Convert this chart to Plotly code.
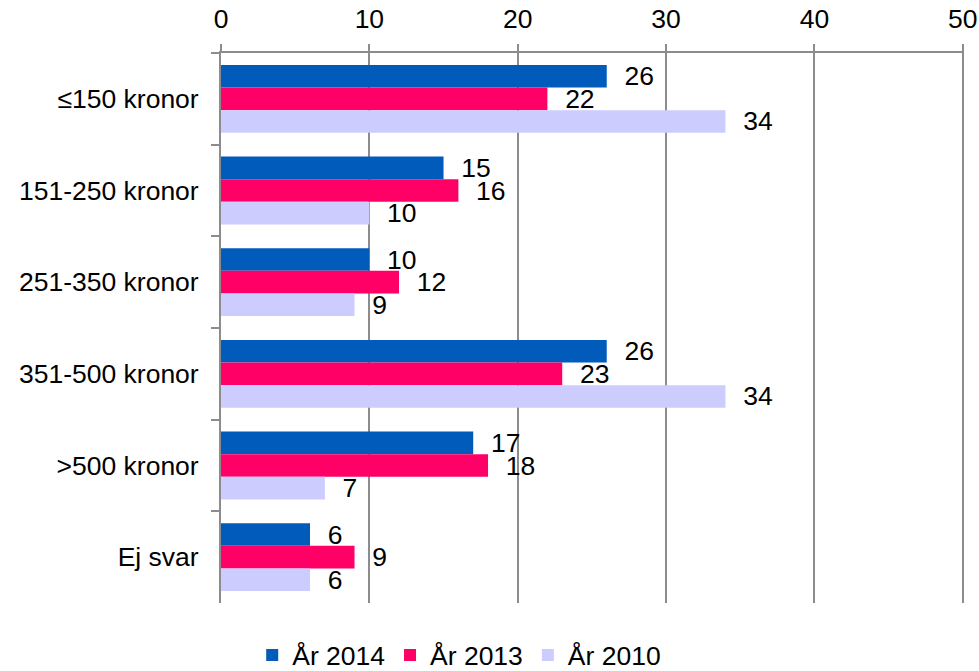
import plotly.graph_objects as go

categories = ["≤150 kronor", "151-250 kronor", "251-350 kronor", "351-500 kronor", ">500 kronor", "Ej svar"]
series_names = ["År 2014", "År 2013", "År 2010"]
values_2014 = [26, 15, 10, 26, 17, 6]
values_2013 = [22, 16, 12, 23, 18, 9]
values_2010 = [34, 10, 9, 34, 7, 6]
colors = ["#005BBB", "#FF0066", "#CCCCFF"]
x_ticks = [0, 10, 20, 30, 40, 50]

FONT = "Liberation Sans, Arial, sans-serif"
FS = 26.5
fig = go.Figure()
for name, vals, col in zip(series_names, [values_2014, values_2013, values_2010], colors):
    fig.add_trace(go.Bar(
        y=categories, x=vals, name=name, orientation="h",
        marker=dict(color=col, line=dict(width=0)),
        text=["\u00a0\u00a0" + str(v) for v in vals],
        textposition="outside", constraintext="none", cliponaxis=False,
        textfont=dict(size=FS, color="black", family=FONT),
    ))

fig.update_layout(
    width=979, height=671,
    margin=dict(l=221, r=15, t=53, b=68, autoexpand=False),
    paper_bgcolor="white", plot_bgcolor="white",
    barmode="group", bargap=0.26, bargroupgap=0,
    font=dict(family=FONT, size=FS, color="black"),
    showlegend=True,
    legend=dict(orientation="h", x=0.042, xanchor="left", y=-0.095, yanchor="middle",
                font=dict(size=FS), itemwidth=30, traceorder="normal"),
    xaxis=dict(side="top", range=[0, 50.08], tickvals=x_ticks, showgrid=True, automargin=False,
               gridcolor="#8c8c8c", gridwidth=2, showline=True, linecolor="#8c8c8c",
               linewidth=2, ticks="outside", ticklen=7, tickcolor="#8c8c8c", tickwidth=2,
               zeroline=False, tickfont=dict(size=FS), ticklabelstandoff=5),
    yaxis=dict(autorange="reversed", type="category", showline=True, linecolor="#8c8c8c",
               linewidth=2, ticks="outside", ticklen=8, tickcolor="#8c8c8c", tickwidth=2,
               tickson="boundaries", showgrid=False, tickfont=dict(size=FS), automargin=False,
               ticklabelstandoff=15),
)
fig.write_html("out.html", post_script="document.body.style.margin='0';",
               config={"displayModeBar": False})
